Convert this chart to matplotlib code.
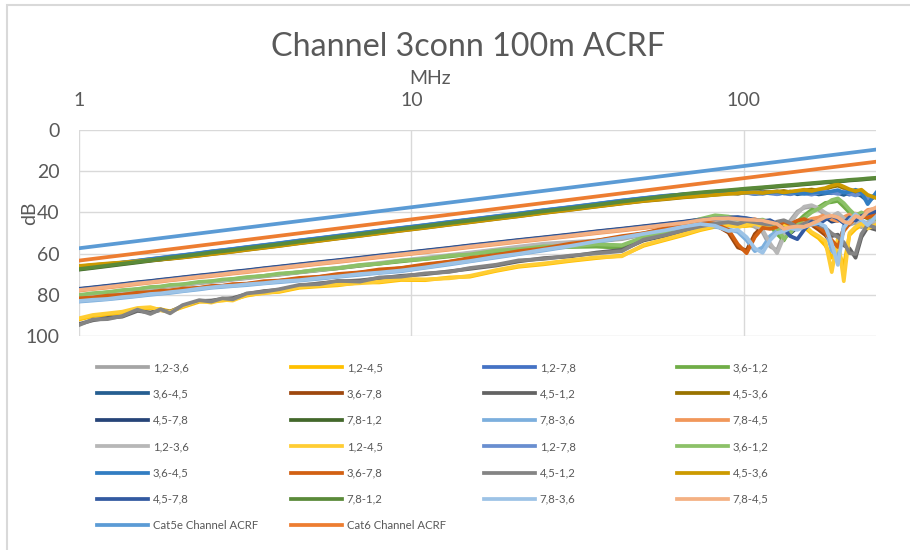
import matplotlib
matplotlib.use("Agg")
import matplotlib.pyplot as plt
from matplotlib.lines import Line2D
from matplotlib.patches import Rectangle
from matplotlib.ticker import NullLocator

plt.rcParams['font.family'] = ['Lato', 'DejaVu Sans']

# measurement frequencies (MHz)
freq_mhz = [1, 1.1, 1.22, 1.35, 1.5, 1.64, 1.76, 1.88, 2.05, 2.3,
            2.5, 2.7, 2.9, 3.2, 3.6, 4, 4.6, 5.3, 6, 7,
            8, 9.3, 11, 13, 15, 18, 21, 25, 30, 36,
            43, 50, 58, 66, 74, 82, 90, 96, 102, 108,
            114, 120, 126, 132, 138, 145, 152, 160, 168, 176,
            184, 192, 200, 208, 217, 226, 236, 250]

# ACRF (dB) per pair combination, first run
r1_12_36 = [80.7, 79.9, 79.2, 78.4, 77.6, 77.0, 76.4, 75.9, 75.3, 74.4,
            73.8, 73.3, 72.7, 72.0, 71.1, 70.3, 69.2, 68.1, 67.2, 65.9,
            64.8, 63.6, 62.3, 61.0, 59.8, 58.3, 57.0, 55.6, 54.8, 54.0,
            53.0, 50.8, 48.4, 46.2, 44.4, 43.6, 44.0, 44.8, 45.6, 47.0,
            49.6, 56.5, 58.4, 50.5, 44.0, 39.6, 37.8, 37.2, 38.8, 41.0,
            42.5, 41.0, 43.5, 46.0, 45.0, 47.2, 45.8, 45.0]
r1_12_45 = [92.0, 90.4, 89.6, 88.6, 86.8, 86.6, 87.0, 88.0, 86.0, 83.4,
            83.2, 82.8, 82.2, 80.4, 79.0, 78.6, 76.6, 75.9, 75.4, 74.0,
            74.0, 72.8, 72.9, 71.6, 71.2, 68.4, 66.4, 65.2, 63.6, 62.2,
            61.0, 56.2, 53.4, 51.0, 48.6, 47.0, 46.4, 46.8, 46.6, 46.2,
            47.2, 46.6, 47.0, 46.6, 47.3, 48.0, 47.0, 50.2, 52.5, 56.0,
            62.0, 58.5, 66.0, 51.0, 48.0, 46.2, 47.0, 46.8]
r1_12_78 = [67.1, 66.2, 65.4, 64.5, 63.6, 62.8, 62.2, 61.6, 60.9, 59.9,
            59.1, 58.5, 57.9, 57.0, 56.0, 55.1, 53.8, 52.6, 51.5, 50.2,
            49.0, 47.7, 46.3, 44.8, 43.6, 42.0, 40.7, 39.1, 37.6, 36.0,
            34.4, 33.2, 32.1, 31.4, 30.9, 30.6, 30.4, 30.2, 29.9, 30.5,
            31.0, 30.3, 29.8, 30.7, 31.2, 30.4, 29.9, 30.8, 31.0, 30.1,
            30.7, 29.6, 30.3, 31.4, 30.0, 31.2, 33.8, 31.8]
r1_36_12 = [80.4, 79.6, 78.8, 78.1, 77.3, 76.6, 76.1, 75.6, 75.0, 74.1,
            73.5, 73.0, 72.4, 71.7, 70.8, 70.1, 69.0, 68.0, 67.1, 65.9,
            64.9, 63.8, 62.6, 61.4, 60.3, 59.0, 57.9, 57.2, 56.8, 56.6,
            57.2, 53.0, 49.8, 46.5, 43.6, 42.2, 42.8, 44.5, 43.8, 44.6,
            45.2, 46.5, 50.5, 53.6, 48.2, 44.6, 41.5, 38.8, 37.5, 35.4,
            35.0, 34.4, 37.2, 40.0, 42.5, 41.2, 43.0, 44.0]
r1_36_45 = [67.4, 66.5, 65.6, 64.7, 63.8, 63.0, 62.4, 61.8, 61.1, 60.1,
            59.3, 58.7, 58.1, 57.2, 56.2, 55.3, 54.0, 52.8, 51.7, 50.4,
            49.2, 47.9, 46.5, 45.0, 43.8, 42.2, 40.9, 39.3, 37.8, 36.2,
            34.6, 33.4, 32.4, 31.6, 31.0, 30.7, 30.5, 30.8, 30.4, 31.1,
            30.6, 30.2, 31.0, 30.5, 29.9, 31.2, 30.6, 30.0, 31.3, 30.8,
            30.1, 30.6, 31.5, 30.2, 30.8, 32.0, 34.5, 32.0]
r1_36_78 = [82.0, 81.4, 80.8, 80.1, 79.4, 78.8, 78.4, 78.0, 77.5, 76.7,
            76.2, 75.7, 75.3, 74.7, 73.9, 73.2, 72.3, 71.3, 70.4, 69.2,
            68.2, 67.1, 65.7, 64.0, 62.6, 60.8, 59.3, 57.6, 55.7, 53.8,
            52.0, 50.2, 48.2, 46.4, 44.9, 46.0, 49.8, 57.0, 58.5, 50.5,
            46.8, 47.2, 46.0, 45.0, 46.5, 44.5, 43.8, 46.0, 48.4, 51.0,
            55.0, 55.5, 47.8, 44.6, 42.2, 42.6, 41.5, 41.2]
r1_45_12 = [94.2, 92.4, 91.2, 90.6, 87.8, 88.6, 87.4, 88.2, 85.4, 83.0,
            82.8, 82.0, 81.6, 79.6, 78.2, 77.6, 75.6, 74.4, 73.6, 73.0,
            72.0, 70.8, 70.0, 68.6, 67.4, 65.8, 63.8, 62.2, 61.4, 59.5,
            58.2, 53.6, 51.4, 49.0, 47.2, 46.0, 45.4, 44.9, 45.2, 45.6,
            44.8, 46.5, 45.2, 44.6, 46.0, 46.6, 44.8, 45.0, 46.8, 48.5,
            51.5, 50.8, 56.0, 57.5, 62.0, 52.0, 47.2, 48.4]
r1_45_36 = [66.3, 65.6, 65.0, 64.5, 63.8, 63.3, 62.9, 62.5, 61.9, 61.0,
            60.3, 59.7, 59.1, 58.2, 57.2, 56.3, 55.0, 53.8, 52.7, 51.4,
            50.2, 48.9, 47.5, 46.0, 44.8, 43.2, 41.9, 40.3, 38.8, 37.2,
            35.7, 34.5, 33.6, 32.7, 32.1, 31.4, 30.8, 30.9, 30.2, 30.5,
            29.9, 30.4, 30.0, 29.6, 30.2, 29.8, 29.3, 28.9, 29.4, 28.6,
            27.6, 27.0, 28.2, 29.2, 30.1, 29.5, 32.4, 32.2]
r1_45_78 = [77.1, 76.4, 75.6, 74.8, 73.9, 73.3, 72.7, 72.2, 71.5, 70.6,
            70.0, 69.4, 68.8, 68.1, 67.1, 66.3, 65.2, 64.1, 63.2, 62.0,
            60.9, 59.8, 58.5, 57.2, 56.0, 54.6, 53.4, 52.1, 50.7, 49.2,
            47.9, 46.7, 45.5, 44.5, 43.4, 42.8, 42.4, 42.5, 43.1, 43.9,
            44.8, 44.0, 46.3, 49.1, 50.2, 47.2, 45.5, 44.9, 42.8, 42.3,
            44.5, 43.8, 43.0, 42.7, 43.6, 42.2, 39.9, 38.8]
r1_78_12 = [67.8, 67.0, 66.1, 65.2, 64.3, 63.5, 62.9, 62.3, 61.6, 60.6,
            59.8, 59.2, 58.6, 57.7, 56.7, 55.8, 54.5, 53.3, 52.2, 50.9,
            49.7, 48.4, 47.0, 45.5, 44.3, 42.7, 41.4, 39.8, 38.3, 36.7,
            35.1, 33.8, 32.5, 31.4, 30.6, 30.0, 29.5, 29.1, 28.7, 28.4,
            28.1, 27.8, 27.5, 27.2, 27.0, 26.7, 26.4, 26.1, 25.8, 25.5,
            25.3, 25.0, 24.8, 24.5, 24.3, 24.1, 23.8, 23.5]
r1_78_36 = [83.3, 82.8, 82.2, 81.5, 80.7, 80.0, 79.5, 79.1, 78.3, 77.4,
            76.6, 76.2, 75.8, 75.3, 74.5, 73.9, 73.1, 72.2, 71.3, 70.3,
            69.4, 68.6, 66.9, 65.3, 63.8, 61.9, 60.3, 58.5, 56.5, 54.5,
            52.4, 50.8, 48.9, 47.3, 45.9, 47.0, 48.2, 49.5, 53.5, 58.8,
            57.0, 51.5, 49.0, 48.5, 48.0, 47.2, 46.4, 45.5, 46.2, 48.0,
            58.5, 62.0, 46.5, 43.2, 42.0, 44.8, 45.0, 41.5]
r1_78_45 = [78.0, 77.2, 76.5, 75.7, 74.8, 74.1, 73.6, 73.0, 72.4, 71.5,
            70.9, 70.3, 69.7, 69.0, 68.0, 67.2, 66.1, 65.0, 64.1, 62.9,
            61.8, 60.7, 59.4, 58.1, 56.9, 55.5, 54.3, 53.0, 51.6, 50.1,
            48.8, 47.6, 46.4, 45.3, 44.2, 43.4, 43.0, 43.6, 44.2, 43.2,
            45.0, 46.1, 47.9, 46.2, 45.4, 47.5, 44.6, 43.1, 42.5, 41.0,
            43.4, 44.2, 42.3, 41.0, 40.6, 41.5, 38.8, 38.2]

# ACRF (dB) per pair combination, second run
r2_12_36 = [80.5, 79.7, 78.9, 78.2, 77.4, 76.7, 76.2, 75.7, 75.1, 74.2,
            73.6, 73.1, 72.5, 71.8, 70.9, 70.1, 69.0, 67.9, 66.9, 65.6,
            64.5, 63.3, 62.0, 60.7, 59.5, 58.0, 56.6, 55.2, 54.4, 53.6,
            52.6, 50.4, 48.0, 45.8, 44.0, 43.2, 43.6, 44.4, 45.0, 46.2,
            48.5, 55.0, 59.8, 52.0, 45.2, 40.5, 37.2, 36.5, 38.0, 40.2,
            41.8, 40.2, 42.8, 45.2, 44.0, 46.5, 45.0, 44.2]
r2_12_45 = [91.4, 89.8, 89.0, 88.2, 86.4, 86.0, 87.5, 88.4, 85.6, 83.0,
            83.8, 82.4, 82.8, 80.0, 79.3, 78.2, 76.2, 75.5, 75.0, 74.4,
            73.6, 72.3, 72.5, 72.0, 70.8, 68.0, 66.0, 64.8, 63.2, 61.8,
            61.3, 55.8, 53.0, 50.5, 48.2, 46.5, 46.0, 47.2, 46.0, 45.5,
            46.8, 46.2, 47.5, 46.0, 46.8, 47.5, 46.0, 49.5, 51.5, 54.0,
            69.0, 52.5, 73.4, 50.0, 47.0, 45.5, 47.8, 46.0]
r2_12_78 = [67.0, 66.2, 65.2, 64.3, 63.4, 62.6, 62.0, 61.4, 60.7, 59.7,
            58.9, 58.3, 57.7, 56.8, 55.8, 54.9, 53.6, 52.4, 51.3, 50.0,
            48.8, 47.5, 46.1, 44.6, 43.4, 41.8, 40.5, 38.9, 37.4, 35.8,
            34.2, 33.0, 31.9, 31.3, 30.8, 30.5, 30.3, 30.1, 30.6, 31.0,
            30.2, 30.8, 31.2, 30.5, 31.0, 30.2, 30.7, 31.4, 30.5, 29.6,
            30.4, 31.0, 29.8, 30.9, 31.8, 30.6, 33.5, 31.6]
r2_36_12 = [80.1, 79.2, 78.7, 77.7, 77.2, 76.2, 76.0, 75.2, 74.9, 73.7,
            73.4, 72.6, 72.3, 71.4, 70.8, 69.7, 69.0, 67.6, 67.1, 65.5,
            64.9, 63.4, 62.6, 61.0, 60.4, 58.5, 57.9, 56.5, 56.6, 55.5,
            55.9, 52.0, 49.5, 45.6, 43.2, 41.4, 42.0, 43.4, 43.0, 44.0,
            43.5, 45.0, 47.5, 52.8, 50.0, 46.0, 42.8, 40.0, 38.2, 36.2,
            34.0, 33.2, 35.5, 38.6, 41.5, 40.0, 41.8, 43.2]
r2_36_45 = [67.2, 66.3, 65.3, 64.4, 63.5, 62.7, 62.1, 61.5, 60.8, 59.8,
            59.0, 58.4, 57.8, 56.9, 55.9, 55.0, 53.7, 52.5, 51.4, 50.1,
            48.9, 47.6, 46.2, 44.7, 43.5, 41.9, 40.6, 39.0, 37.5, 35.9,
            34.3, 33.1, 32.0, 31.2, 30.6, 30.4, 30.2, 30.0, 30.3, 30.0,
            30.6, 30.4, 30.0, 30.8, 30.3, 30.6, 31.0, 30.4, 30.2, 30.6,
            29.8, 29.2, 30.5, 30.0, 29.0, 30.2, 36.0, 30.5]
r2_36_78 = [81.7, 81.3, 80.4, 80.0, 79.0, 78.7, 78.0, 77.9, 77.0, 76.6,
            75.7, 75.6, 74.8, 74.6, 73.4, 73.1, 71.8, 71.2, 69.9, 69.1,
            67.7, 67.0, 65.2, 63.9, 62.1, 60.7, 58.8, 57.5, 55.2, 53.7,
            51.5, 50.1, 47.7, 46.3, 44.6, 45.5, 48.5, 55.5, 59.8, 52.0,
            47.5, 48.0, 47.0, 44.5, 45.8, 44.0, 43.2, 45.0, 47.2, 49.8,
            53.5, 56.8, 49.0, 45.5, 43.0, 41.8, 42.6, 40.5]
r2_45_12 = [94.7, 92.0, 91.8, 90.3, 87.2, 89.3, 87.0, 89.0, 85.0, 82.6,
            83.3, 81.7, 82.2, 79.3, 78.5, 77.3, 75.2, 74.8, 73.2, 73.6,
            71.6, 71.2, 69.6, 68.9, 67.0, 65.4, 63.3, 62.6, 61.0, 59.9,
            58.8, 53.2, 51.0, 48.6, 46.8, 45.5, 44.8, 45.6, 44.2, 44.8,
            45.5, 46.0, 44.5, 43.8, 45.2, 47.0, 45.5, 44.2, 46.0, 47.5,
            50.2, 52.0, 54.5, 59.8, 60.2, 50.5, 46.0, 47.5]
r2_45_36 = [66.0, 65.4, 64.8, 64.3, 63.7, 63.2, 62.8, 62.4, 61.8, 60.9,
            60.2, 59.6, 59.0, 58.1, 57.1, 56.2, 54.9, 53.7, 52.6, 51.3,
            50.1, 48.8, 47.4, 45.9, 44.7, 43.1, 41.8, 40.2, 38.7, 37.1,
            35.6, 34.4, 33.4, 32.5, 32.0, 31.5, 31.0, 30.6, 30.4, 30.2,
            30.6, 30.1, 29.8, 30.3, 29.9, 29.5, 29.0, 29.6, 28.8, 28.2,
            27.0, 26.3, 27.5, 28.8, 29.6, 29.0, 31.5, 33.0]
r2_45_78 = [77.3, 76.6, 75.8, 75.0, 74.1, 73.5, 72.9, 72.4, 71.7, 70.8,
            70.2, 69.6, 69.0, 68.3, 67.3, 66.5, 65.4, 64.3, 63.4, 62.2,
            61.1, 60.0, 58.7, 57.4, 56.2, 54.8, 53.6, 52.3, 50.9, 49.4,
            48.1, 46.9, 45.7, 44.7, 43.6, 43.0, 42.6, 42.3, 42.8, 43.6,
            44.2, 43.8, 45.6, 48.0, 51.5, 53.0, 48.4, 44.6, 45.8, 43.5,
            41.7, 43.1, 45.2, 42.4, 44.0, 41.8, 40.5, 39.5]
r2_78_12 = [67.5, 66.7, 65.8, 64.9, 64.0, 63.2, 62.6, 62.0, 61.3, 60.3,
            59.5, 58.9, 58.3, 57.4, 56.4, 55.5, 54.2, 53.0, 51.9, 50.6,
            49.4, 48.1, 46.7, 45.2, 44.0, 42.4, 41.1, 39.5, 38.0, 36.4,
            34.8, 33.5, 32.2, 31.1, 30.3, 29.7, 29.2, 28.8, 28.4, 28.1,
            27.8, 27.5, 27.2, 26.9, 26.7, 26.4, 26.1, 25.8, 25.5, 25.2,
            25.0, 24.7, 24.5, 24.2, 24.0, 23.8, 23.5, 23.2]
r2_78_36 = [83.0, 82.4, 82.0, 81.1, 80.5, 79.6, 79.3, 78.7, 78.1, 77.0,
            76.4, 75.8, 75.6, 74.9, 74.3, 73.5, 72.9, 71.8, 71.1, 69.9,
            69.2, 68.2, 66.7, 64.9, 63.6, 61.5, 60.1, 58.1, 56.3, 54.1,
            52.2, 50.4, 48.7, 46.9, 45.6, 46.5, 49.0, 48.5, 52.0, 57.5,
            59.6, 53.5, 50.0, 49.2, 47.6, 48.5, 47.0, 46.0, 45.2, 46.8,
            55.0, 65.5, 47.5, 44.0, 40.8, 43.5, 46.2, 42.0]
r2_78_45 = [77.7, 77.0, 76.2, 75.4, 74.5, 73.9, 73.3, 72.8, 72.1, 71.2,
            70.6, 70.0, 69.4, 68.7, 67.7, 66.9, 65.8, 64.7, 63.8, 62.6,
            61.5, 60.4, 59.1, 57.8, 56.6, 55.2, 54.0, 52.7, 51.3, 49.8,
            48.5, 47.3, 46.1, 45.1, 43.8, 43.0, 42.8, 43.2, 43.5, 43.7,
            44.0, 44.8, 45.6, 48.0, 47.2, 46.8, 47.0, 45.5, 44.0, 42.2,
            41.6, 42.4, 44.5, 45.2, 41.8, 42.8, 39.6, 37.6]

# channel limit lines
limit_freq = [1, 10, 100, 250]
cat5e_acrf = [57.4, 37.5, 17.5, 9.5]
cat6_acrf = [63.4, 43.4, 23.4, 15.4]

pair_labels = ["1,2-3,6", "1,2-4,5", "1,2-7,8", "3,6-1,2", "3,6-4,5", "3,6-7,8",
               "4,5-1,2", "4,5-3,6", "4,5-7,8", "7,8-1,2", "7,8-3,6", "7,8-4,5"]
run1 = [r1_12_36, r1_12_45, r1_12_78, r1_36_12, r1_36_45, r1_36_78,
        r1_45_12, r1_45_36, r1_45_78, r1_78_12, r1_78_36, r1_78_45]
run2 = [r2_12_36, r2_12_45, r2_12_78, r2_36_12, r2_36_45, r2_36_78,
        r2_45_12, r2_45_36, r2_45_78, r2_78_12, r2_78_36, r2_78_45]
run1_colors = ['#a5a5a5', '#ffc000', '#4472c4', '#70ad47', '#255e91', '#9e480e',
               '#636363', '#997300', '#264478', '#43682b', '#7cafdd', '#f1975a']
run2_colors = ['#b7b7b7', '#ffcd33', '#698ed0', '#8cc168', '#327dc2', '#d26012',
               '#848484', '#cc9a00', '#335aa1', '#5a8a39', '#9dc3e6', '#f4b183']

text_col = '#595959'
grid_col = '#d9d9d9'
lw = 2.7

fig = plt.figure(figsize=(9.1, 5.5), dpi=100)
ax = fig.add_axes([79 / 910, 1 - 336 / 550, 797 / 910, 206 / 550])

handles, labels = [], []
for series, colors in ((run1, run1_colors), (run2, run2_colors)):
    for vals, c, lab in zip(series, colors, pair_labels):
        ln, = ax.plot(freq_mhz, vals, color=c, lw=lw, solid_joinstyle='round')
        handles.append(ln)
        labels.append(lab)
for vals, c, lab in ((cat5e_acrf, '#5b9bd5', 'Cat5e Channel ACRF'),
                     (cat6_acrf, '#ed7d31', 'Cat6 Channel ACRF')):
    ln, = ax.plot(limit_freq, vals, color=c, lw=lw)
    handles.append(ln)
    labels.append(lab)

ax.set_xscale('log')
ax.set_xlim(1, 250)
ax.set_ylim(100, 0)
ax.set_xticks([1, 10, 100])
ax.set_xticklabels(['1', '10', '100'])
ax.xaxis.set_minor_locator(NullLocator())
ax.xaxis.tick_top()
ax.set_yticks(range(0, 101, 20))
ax.tick_params(axis='both', length=0, labelsize=14, colors=text_col)
ax.tick_params(axis='y', pad=14)
ax.tick_params(axis='x', pad=15)
ax.grid(True, color=grid_col, lw=1)
ax.set_axisbelow(True)
for sp in ax.spines.values():
    sp.set_visible(False)

fig.text(468 / 910, 1 - 47 / 550, 'Channel 3conn 100m ACRF', ha='center', va='center',
         fontsize=23.2, color=text_col)
fig.text(430 / 910, 1 - 78 / 550, 'MHz', ha='center', va='center', fontsize=14, color=text_col)
fig.text(30 / 910, 1 - 213 / 550, 'dB', ha='center', va='center', rotation=90,
         fontsize=14, color=text_col)

# legend laid out row by row in four fixed columns
col_x = [97, 291, 484, 677]
for c, x in enumerate(col_x):
    idx = list(range(c, len(handles), 4))
    fig.legend([Line2D([], [], color=handles[i].get_color(), lw=lw) for i in idx],
               [labels[i] for i in idx], loc='upper left',
               bbox_to_anchor=(x / 910, 1 - 362 / 550), bbox_transform=fig.transFigure,
               frameon=False, fontsize=8.2, labelcolor=text_col, handlelength=4.5,
               handletextpad=0.4, labelspacing=1.35, borderpad=0, borderaxespad=0)

fig.add_artist(Rectangle((7 / 910, -0.1), 1.2, 1.1 - 5 / 550, transform=fig.transFigure,
                         fill=False, ec=grid_col, lw=1.5))

fig.savefig('out.png', dpi=100)
